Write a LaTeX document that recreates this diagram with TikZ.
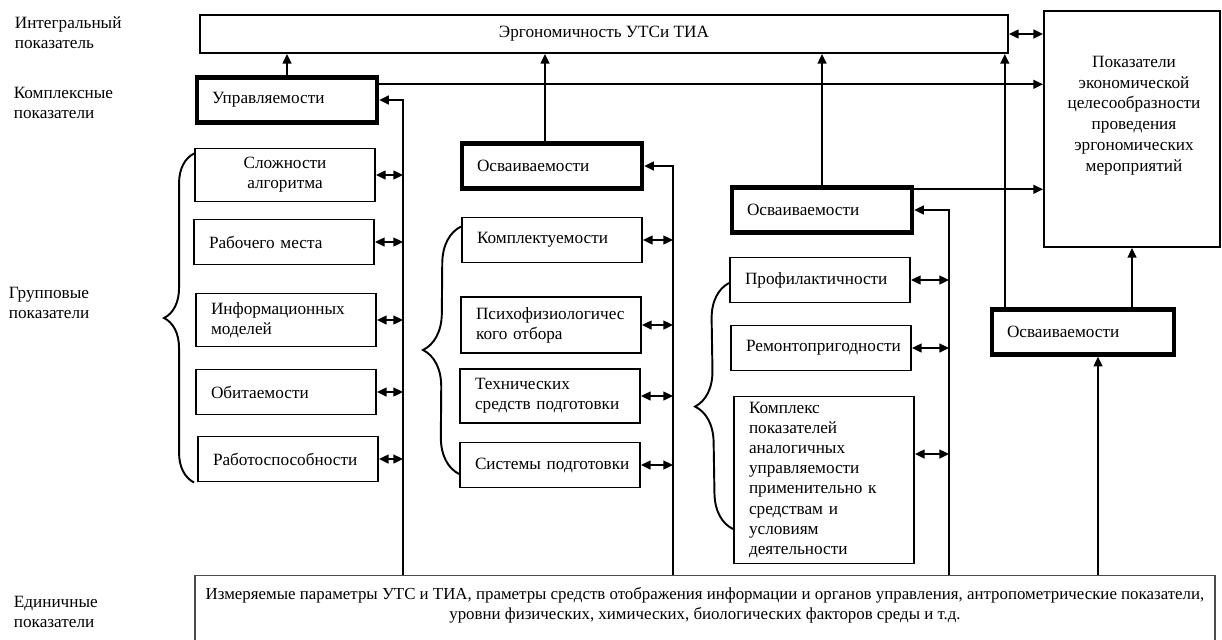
\documentclass[tikz,border=0pt]{standalone}
\usepackage{fontspec}
\setmainfont{Liberation Serif}
\usetikzlibrary{arrows.meta, decorations.pathreplacing}
\newdimen\pxl
\pxl=0.02cm
\tikzset{
	box/.style = {draw, line width = 1.1pt, minimum width = 180\pxl, minimum height = 45\pxl, inner ysep = 2pt},
	lbox/.style = {box, text width = 150\pxl, inner xsep = 15\pxl, align = left},
	kbox/.style = {lbox, line width = 2.5pt},
	grp/.style = {decorate, line width = 1.1pt, decoration = {brace, amplitude = #1}},
	lvl/.style = {anchor = west, align = left}
}
\begin{document}
\begin{tikzpicture}[x = 0.02cm, y = -0.02cm, font = \fontsize{9.8}{11.4}\selectfont, line width = 1.1pt, >={Triangle[length = 5.5pt, width = 5pt]}]
	 \useasboundingbox (0, 0) rectangle (1222, 639);
	 
	 \node (lint) [lvl] at (8, 33) {Интегральный\\показатель};
	 \node (lkompl) [lvl] at (7, 103) {Комплексные\\показатели};
	 \node (lgrp) [lvl] at (2, 303) {Групповые\\показатели};
	 \node (ledin) [lvl] at (7, 612) {Единичные\\показатели};
	 
	 \node (ergo) [box, minimum width = 808\pxl, minimum height = 38\pxl] at (604, 34) {Эргономичность УТСи ТИА};
	 \node (econ) [box, minimum width = 176\pxl, minimum height = 236\pxl] at (1132, 129) {};
	 \node (econtext) [anchor = north, align = center, font = \fontsize{9.8}{11.9}\selectfont] at (1134, 49) {Показатели\\экономической\\целесообразности\\проведения\\эргономических\\мероприятий};
	 
	 \node (upr) [kbox] at (287, 100) {Управляемости};
	 \node (slozh) [box, align = center, minimum height = 53\pxl] at (285, 175) {Сложности\\алгоритма};
	 \node (rabm) [lbox] at (284, 242) {Рабочего~места};
	 \node (inform) [lbox, minimum height = 53\pxl] at (286, 320) {Информационных\\моделей};
	 \node (obit) [lbox] at (286, 392) {Обитаемости};
	 \node (rabsp) [lbox] at (288, 459) {Работоспособности};
	 
	 \node (osv1) [kbox] at (552, 166) {Осваиваемости};
	 \node (kompl) [lbox] at (552, 240) {Комплектуемости};
	 \node (psych) [lbox, minimum height = 56\pxl] at (551, 325) {Психофизиологичес\\кого~отбора};
	 \node (techn) [lbox, minimum height = 54\pxl] at (550, 396) {Технических\\средств~подготовки};
	 \node (sist) [lbox] at (550, 465) {Системы~подготовки};
	 
	 \node (osv2) [kbox] at (822, 210) {Осваиваемости};
	 \node (prof) [lbox] at (820, 280) {Профилактичности};
	 \node (remont) [lbox] at (821, 348) {Ремонтопригодности};
	 \node (kompleks) [lbox, minimum height = 167\pxl] at (824, 480) {Комплекс\\показателей\\аналогичных\\управляемости\\применительно~к\\средствам~и\\условиям\\деятельности};
	 
	 \node (osv3) [kbox, minimum width = 182\pxl, text width = 152\pxl] at (1083, 332) {Осваиваемости};
	 
	 \node (edin) [draw = black!70, line width = 0.6pt, minimum width = 1020\pxl, minimum height = 90\pxl, anchor = north] at (705, 575) {};
	 \node (edintext) [anchor = north, align = center, font = \fontsize{9.6}{11.4}\selectfont] at ([yshift = -6\pxl]edin.north) {Измеряемые параметры УТС и ТИА, праметры средств отображения информации и органов управления, антропометрические показатели,\\уровни физических, химических, биологических факторов среды и т.д.};
	 
	 \coordinate (bus1) at (403, 0);
	 \coordinate (bus2) at (673, 0);
	 \coordinate (bus3) at (949, 0);
	 \draw[->] (edin.north -| bus1) |- (upr.east);
	 \draw[->] (edin.north -| bus2) |- (osv1.east);
	 \draw[->] (edin.north -| bus3) |- (osv2.east);
	 \foreach \n in {slozh, rabm, inform, obit, rabsp}
	 \draw[<->] (\n.east) -- (\n.east -| bus1);
	 \foreach \n in {kompl, psych, techn, sist}
	 \draw[<->] (\n.east) -- (\n.east -| bus2);
	 \foreach \n in {prof, remont}
	 \draw[<->] (\n.east) -- (\n.east -| bus3);
	 \coordinate (komplout) at ([yshift = 26\pxl]kompleks.east);
	 \draw[<->] (komplout) -- (komplout -| bus3);
	 
	 \draw[->] (upr.north) -- (upr.north |- ergo.south);
	 \coordinate (osv1top) at ([xshift = -7\pxl]osv1.north);
	 \draw[->] (osv1top) -- (osv1top |- ergo.south);
	 \draw[->] (osv2.north) -- (osv2.north |- ergo.south);
	 \coordinate (osv3top) at ([xshift = 15\pxl]osv3.north west);
	 \draw[->] (osv3top) -- (osv3top |- ergo.south);
	 \draw[->] (osv3.north -| econ.south) -- (econ.south);
	 \coordinate (osv3in) at ([xshift = 15\pxl]osv3.south);
	 \draw[->] (edin.north -| osv3in) -- (osv3in);
	 \draw[<->] (ergo.east) -- (ergo.east -| econ.west);
	 \coordinate (uprout) at ([yshift = -9\pxl]upr.north east);
	 \draw[->] (uprout) -- (uprout -| econ.west);
	 \coordinate (osv2out) at ([yshift = -4\pxl]osv2.north east);
	 \draw[->] (osv2out) -- (osv2out -| econ.west);
	 
	 \draw[grp = 30\pxl] (rabsp.south west -| slozh.west) -- ([yshift = -6\pxl]slozh.north west);
	 \draw[grp = 37\pxl] ([yshift = -9\pxl]sist.west) -- ([yshift = -10\pxl]kompl.north west);
	 \draw[grp = 36\pxl] ([yshift = -49\pxl]kompleks.west) -- ([yshift = -3\pxl]prof.west);
\end{tikzpicture}
\end{document}
